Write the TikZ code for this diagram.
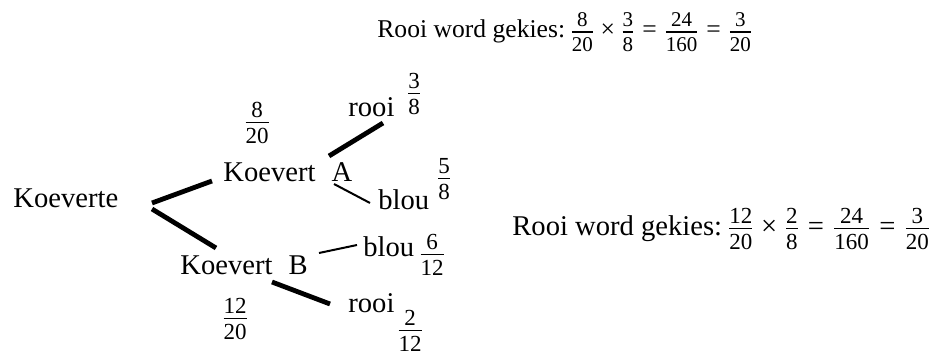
\documentclass[tikz,border=0pt]{standalone}
\usepackage{amsmath}
\usepackage{fontspec}
\setmainfont{Liberation Serif}
\newcommand{\fr}[3][11.5]{\ensuremath{\genfrac{}{}{0.6pt}{}{\hbox{\fontsize{#1}{#1}\selectfont #2\rule[-1.6pt]{0pt}{1pt}}}{\hbox{\fontsize{#1}{#1}\selectfont\rule{0pt}{0.84em}#3}}}}
\newcommand{\tms}{\mathbin{\hbox{×}}}
\newcommand{\eqs}{\mathrel{\hbox{=}}}
\tikzset{
  lbl/.style={inner sep=0pt, anchor=base west, font=\fontsize{14.3}{17}\selectfont},
  frc/.style={inner sep=0pt, anchor=center},
  thickline/.style={line width=2.4pt},
  thinline/.style={line width=1pt}
}
\begin{document}
\begin{tikzpicture}[x=0.5pt,y=-0.5pt]
\useasboundingbox (0,0) rectangle (946,356);
% tree nodes
\node[lbl] (K) at (13,208) {Koeverte};
\node[lbl] (A) at (223,182) {Koevert\hspace{8pt}A};
\node[lbl] (B) at (180,275) {Koevert\hspace{8pt}B};
\node[lbl] (rA) at (348,117) {rooi};
\node[lbl] (bA) at (378,210) {blou};
\node[lbl] (bB) at (363,257) {blou};
\node[lbl] (rB) at (348,313) {rooi};
% probabilities
\node[frc] (p820) at (257,123) {\fr{8}{20}};
\node[frc] (p38) at (414,94) {\fr{3}{8}};
\node[frc] (p58) at (444,179) {\fr{5}{8}};
\node[frc] (p612) at (432,255) {\fr{6}{12}};
\node[frc] (p1220) at (235,319) {\fr{12}{20}};
\node[frc] (p212) at (410,331) {\fr{2}{12}};
% formulas
\node[inner sep=0pt, anchor=base west, font=\fontsize{12.8}{15}\selectfont] (F1) at (377,38)
  {Rooi word gekies:\,$\fr[10.5]{8}{20}\tms\fr[10.5]{3}{8}\eqs\fr[10.5]{24}{160}\eqs\fr[10.5]{3}{20}$};
\node[lbl] (F2) at (512,236)
  {Rooi word gekies:\,$\fr{12}{20}\tms\fr{2}{8}\eqs\fr{24}{160}\eqs\fr{3}{20}$};
% connectors
\draw[thickline] ([shift={(139,-5)}]K.base west) -- ([shift={(-11,-1)}]A.base west);
\draw[thickline] ([shift={(139,1)}]K.base west) -- ([shift={(36,-27)}]B.base west);
\draw[thickline] ([shift={(106,-26)}]A.base west) -- ([shift={(35,6)}]rA.base west);
\draw[thinline] ([shift={(111,2)}]A.base west) -- ([shift={(-8,-7)}]bA.base west);
\draw[thinline] ([shift={(139,-22)}]B.base west) -- ([shift={(-6,-12)}]bB.base west);
\draw[thickline] ([shift={(92,7)}]B.base west) -- ([shift={(-18,-9)}]rB.base west);
\end{tikzpicture}
\end{document}
